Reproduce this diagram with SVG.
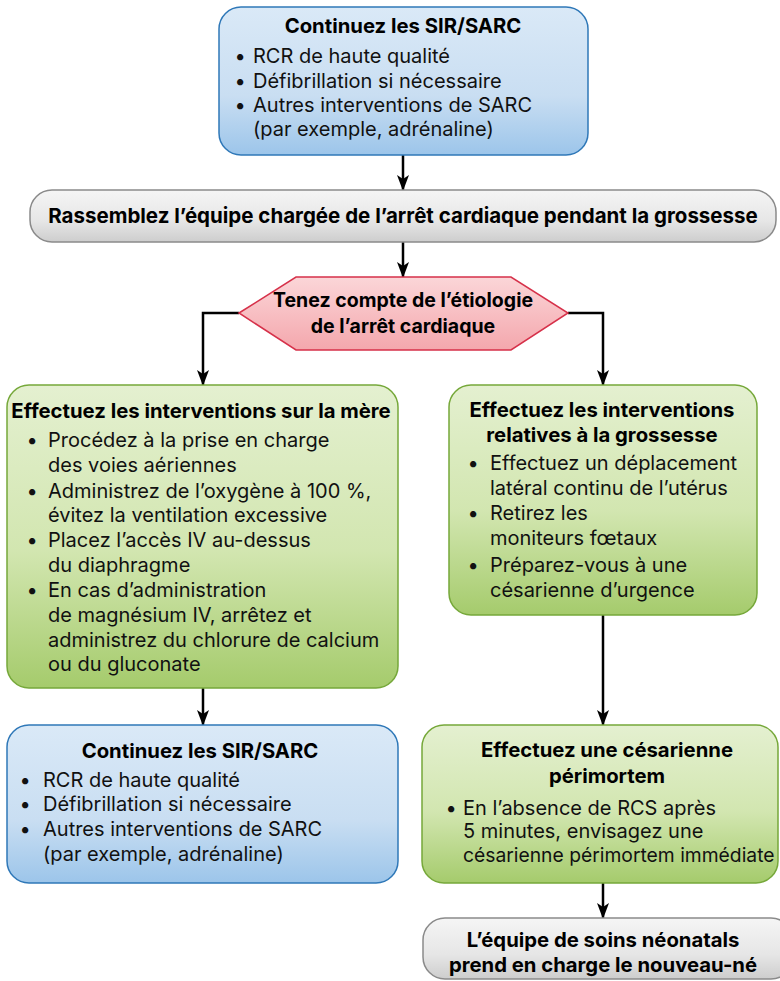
<svg xmlns="http://www.w3.org/2000/svg" width="780" height="981" viewBox="0 0 780 981">
<defs>
<linearGradient id="gBlue" x1="0" y1="0" x2="0" y2="1"><stop offset="0" stop-color="#dae9f7"/><stop offset="0.6" stop-color="#c9def2"/><stop offset="1" stop-color="#9cc5ea"/></linearGradient>
<linearGradient id="gGreen" x1="0" y1="0" x2="0" y2="1"><stop offset="0" stop-color="#e4f0d0"/><stop offset="0.55" stop-color="#d2e6b0"/><stop offset="1" stop-color="#a5cb6c"/></linearGradient>
<linearGradient id="gGray" x1="0" y1="0" x2="0" y2="1"><stop offset="0" stop-color="#f5f5f5"/><stop offset="0.6" stop-color="#e6e6e6"/><stop offset="1" stop-color="#cdcdcd"/></linearGradient>
<linearGradient id="gPink" x1="0" y1="0" x2="0" y2="1"><stop offset="0" stop-color="#fbd6d8"/><stop offset="1" stop-color="#f4a7ad"/></linearGradient>
<marker id="arr" viewBox="0 0 16 12" refX="15" refY="6" markerWidth="16" markerHeight="12" markerUnits="userSpaceOnUse" orient="auto"><path d="M0,0 L16,6 L0,12 L4,6 z" fill="#000"/></marker>
</defs>
<style>
.blue{fill:url(#gBlue);stroke:#2f78b8;stroke-width:1.5}
.green{fill:url(#gGreen);stroke:#76a83a;stroke-width:1.5}
.gray{fill:url(#gGray);stroke:#8a8a8a;stroke-width:1.5}
.pink{fill:url(#gPink);stroke:#d6314a;stroke-width:1.5}
text{font-family:Inter,"Liberation Sans",sans-serif;font-size:20px;fill:#111}
.b{font-weight:bold;font-size:20.3px;fill:#000}
.h{font-size:19.5px}
.c{text-anchor:middle}
.con{fill:none;stroke:#000;stroke-width:2.5;marker-end:url(#arr)}
</style>
<g id="connectors">
<path class="con" d="M403,155 V190"/>
<path class="con" d="M403,242 V277"/>
<path class="con" d="M239,313 H203 V385"/>
<path class="con" d="M568,313 H603 V385"/>
<path class="con" d="M203,688 V725"/>
<path class="con" d="M603,615 V725"/>
<path class="con" d="M603,883 V918"/>
</g>
<g id="n1">
<rect class="blue" x="219" y="7" width="369" height="148" rx="22"/>
<text class="b c" x="403" y="33">Continuez les SIR/SARC</text>
<text class="c" x="240" y="63">•</text><text x="253" y="63">RCR de haute qualité</text>
<text class="c" x="240" y="88">•</text><text x="253" y="88">Défibrillation si nécessaire</text>
<text class="c" x="240" y="112">•</text><text x="253" y="112">Autres interventions de SARC</text>
<text x="253" y="136">(par exemple, adrénaline)</text>
</g>
<g id="n2">
<rect class="gray" x="30" y="190" width="746" height="52" rx="22"/>
<text class="b c" x="403" y="223" style="font-size:20.5px">Rassemblez l’équipe chargée de l’arrêt cardiaque pendant la grossesse</text>
</g>
<g id="n3">
<polygon class="pink" points="239,313 296,277 511,277 568,313 511,350 296,350"/>
<text class="b c h" x="403" y="307">Tenez compte de l’étiologie</text>
<text class="b c h" x="403" y="333">de l’arrêt cardiaque</text>
</g>
<g id="n4">
<rect class="green" x="7" y="385" width="391" height="303" rx="22"/>
<text class="b c" x="201" y="418">Effectuez les interventions sur la mère</text>
<text class="c" x="32" y="447">•</text><text x="48" y="447">Procédez à la prise en charge</text>
<text x="48" y="472">des voies aériennes</text>
<text class="c" x="32" y="498">•</text><text x="48" y="498">Administrez de l’oxygène à 100 %,</text>
<text x="48" y="522">évitez la ventilation excessive</text>
<text class="c" x="32" y="547">•</text><text x="48" y="547">Placez l’accès IV au-dessus</text>
<text x="48" y="572">du diaphragme</text>
<text class="c" x="32" y="597">•</text><text x="48" y="597">En cas d’administration</text>
<text x="48" y="622">de magnésium IV, arrêtez et</text>
<text x="48" y="647">administrez du chlorure de calcium</text>
<text x="48" y="671">ou du gluconate</text>
</g>
<g id="n5">
<rect class="green" x="449" y="385" width="308" height="230" rx="22"/>
<text class="b c" x="602" y="417">Effectuez les interventions</text>
<text class="b c" x="602" y="442">relatives à la grossesse</text>
<text class="c" x="473" y="470">•</text><text x="490" y="470">Effectuez un déplacement</text>
<text x="490" y="495">latéral continu de l’utérus</text>
<text class="c" x="473" y="520">•</text><text x="490" y="520">Retirez les</text>
<text x="490" y="545">moniteurs fœtaux</text>
<text class="c" x="473" y="572">•</text><text x="490" y="572">Préparez-vous à une</text>
<text x="490" y="597">césarienne d’urgence</text>
</g>
<g id="n6">
<rect class="blue" x="7" y="725" width="391" height="158" rx="22"/>
<text class="b c" x="200" y="758">Continuez les SIR/SARC</text>
<text class="c" x="25" y="787">•</text><text x="43" y="787">RCR de haute qualité</text>
<text class="c" x="25" y="811">•</text><text x="43" y="811">Défibrillation si nécessaire</text>
<text class="c" x="25" y="836">•</text><text x="43" y="836">Autres interventions de SARC</text>
<text x="43" y="861">(par exemple, adrénaline)</text>
</g>
<g id="n7">
<rect class="green" x="422" y="725" width="356" height="158" rx="22"/>
<text class="b c" x="607" y="757">Effectuez une césarienne</text>
<text class="b c" x="607" y="783">périmortem</text>
<text class="c" x="451" y="815">•</text><text x="463" y="815">En l’absence de RCS après</text>
<text x="463" y="838">5 minutes, envisagez une</text>
<text x="463" y="862" style="font-size:19.3px">césarienne périmortem immédiate</text>
</g>
<g id="n8">
<rect class="gray" x="423" y="918" width="370" height="61" rx="22"/>
<text class="b c" x="603" y="947">L’équipe de soins néonatals</text>
<text class="b c" x="603" y="972">prend en charge le nouveau-né</text>
</g>
</svg>
